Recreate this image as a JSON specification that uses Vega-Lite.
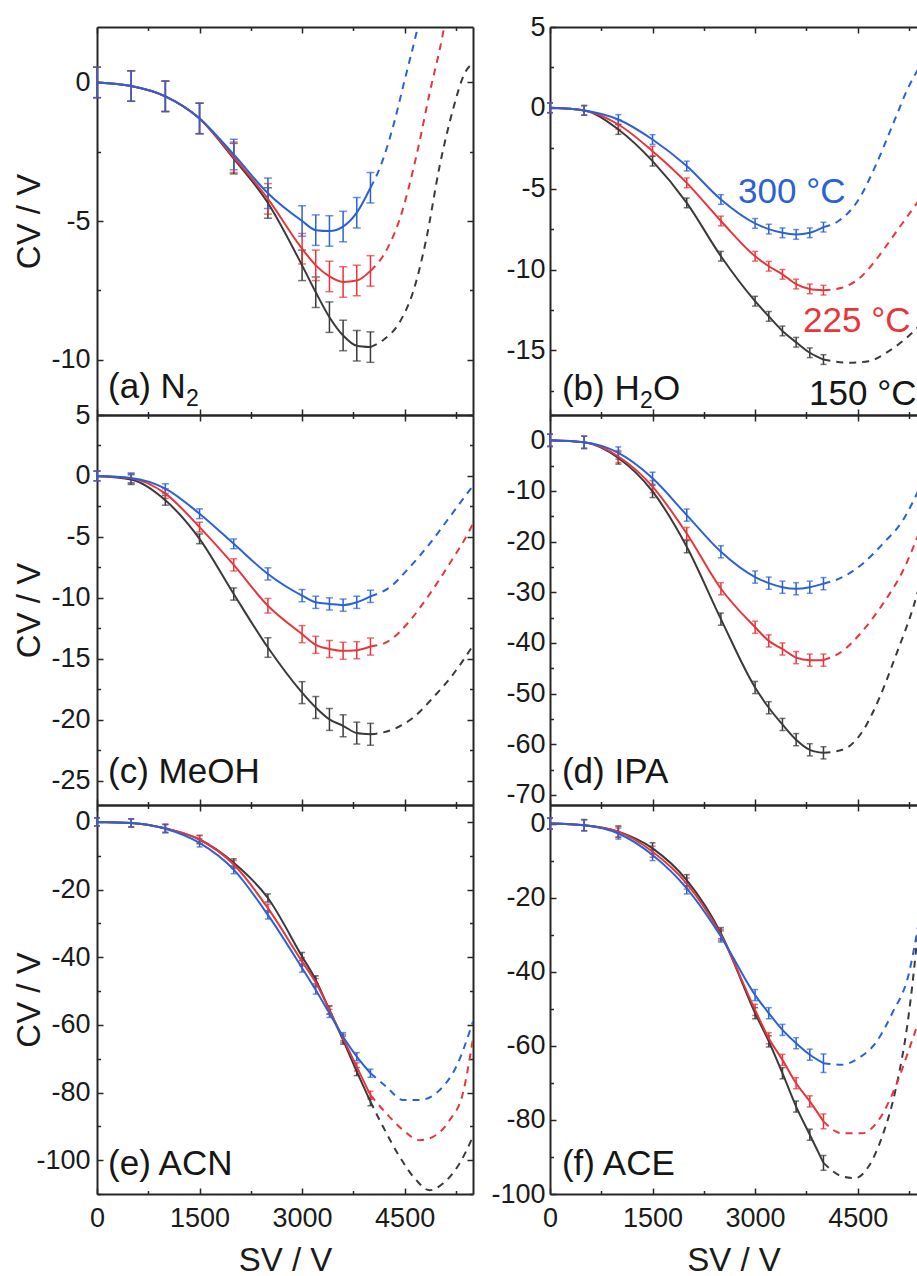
{
"$schema":"https://vega.github.io/schema/vega-lite/v6.json",
"padding":{"left":13,"top":13,"right":0,"bottom":0},
"background":"white",
"columns":2,
"spacing":{"row":0,"column":77},
"bounds":"flush",
"config":{"view":{"stroke":null},"font":"Liberation Sans",
"axis":{"grid":false,"domainColor":"#262626","domainWidth":2,"tickColor":"#262626","tickWidth":1.5,"labelFont":"Liberation Sans","labelFontSize":27,"labelColor":"#1a1a1a","labelFlush":false,"labelOverlap":false,"titleFont":"Liberation Sans","titleFontSize":33,"titleFontWeight":"normal","titleColor":"#1a1a1a"},
"text":{"font":"Liberation Sans"}},
"datasets":{
"pts":[
{"p":"a","T":"150","sv":0,"cv":0,"e":0.55},{"p":"a","T":"150","sv":500,"cv":-0.13,"e":0.55},{"p":"a","T":"150","sv":1000,"cv":-0.5,"e":0.55},{"p":"a","T":"150","sv":1500,"cv":-1.3,"e":0.55},{"p":"a","T":"150","sv":2000,"cv":-2.75,"e":0.55},{"p":"a","T":"150","sv":2500,"cv":-4.35,"e":0.55},{"p":"a","T":"150","sv":3000,"cv":-6.6,"e":0.55},{"p":"a","T":"150","sv":3200,"cv":-7.57,"e":0.55},{"p":"a","T":"150","sv":3400,"cv":-8.47,"e":0.55},{"p":"a","T":"150","sv":3600,"cv":-9.13,"e":0.55},{"p":"a","T":"150","sv":3800,"cv":-9.5,"e":0.55},{"p":"a","T":"150","sv":4000,"cv":-9.55,"e":0.55},
{"p":"a","T":"225","sv":0,"cv":0,"e":0.55},{"p":"a","T":"225","sv":500,"cv":-0.13,"e":0.55},{"p":"a","T":"225","sv":1000,"cv":-0.5,"e":0.55},{"p":"a","T":"225","sv":1500,"cv":-1.3,"e":0.55},{"p":"a","T":"225","sv":2000,"cv":-2.7,"e":0.55},{"p":"a","T":"225","sv":2500,"cv":-4.2,"e":0.55},{"p":"a","T":"225","sv":3000,"cv":-6.0,"e":0.55},{"p":"a","T":"225","sv":3200,"cv":-6.6,"e":0.55},{"p":"a","T":"225","sv":3400,"cv":-7.0,"e":0.55},{"p":"a","T":"225","sv":3600,"cv":-7.2,"e":0.55},{"p":"a","T":"225","sv":3800,"cv":-7.15,"e":0.55},{"p":"a","T":"225","sv":4000,"cv":-6.8,"e":0.55},
{"p":"a","T":"300","sv":0,"cv":0,"e":0.55},{"p":"a","T":"300","sv":500,"cv":-0.13,"e":0.55},{"p":"a","T":"300","sv":1000,"cv":-0.5,"e":0.55},{"p":"a","T":"300","sv":1500,"cv":-1.3,"e":0.55},{"p":"a","T":"300","sv":2000,"cv":-2.6,"e":0.55},{"p":"a","T":"300","sv":2500,"cv":-4.0,"e":0.55},{"p":"a","T":"300","sv":3000,"cv":-5.0,"e":0.55},{"p":"a","T":"300","sv":3200,"cv":-5.33,"e":0.55},{"p":"a","T":"300","sv":3400,"cv":-5.36,"e":0.55},{"p":"a","T":"300","sv":3600,"cv":-5.2,"e":0.55},{"p":"a","T":"300","sv":3800,"cv":-4.7,"e":0.55},{"p":"a","T":"300","sv":4000,"cv":-3.8,"e":0.55},
{"p":"b","T":"150","sv":0,"cv":0,"e":0.3},{"p":"b","T":"150","sv":500,"cv":-0.16,"e":0.3},{"p":"b","T":"150","sv":1000,"cv":-1.34,"e":0.3},{"p":"b","T":"150","sv":1500,"cv":-3.3,"e":0.3},{"p":"b","T":"150","sv":2000,"cv":-5.88,"e":0.3},{"p":"b","T":"150","sv":2500,"cv":-9.18,"e":0.3},{"p":"b","T":"150","sv":3000,"cv":-11.96,"e":0.3},{"p":"b","T":"150","sv":3200,"cv":-12.9,"e":0.3},{"p":"b","T":"150","sv":3400,"cv":-13.8,"e":0.3},{"p":"b","T":"150","sv":3600,"cv":-14.5,"e":0.3},{"p":"b","T":"150","sv":3800,"cv":-15.15,"e":0.3},{"p":"b","T":"150","sv":4000,"cv":-15.57,"e":0.3},
{"p":"b","T":"225","sv":0,"cv":0,"e":0.3},{"p":"b","T":"225","sv":500,"cv":-0.16,"e":0.3},{"p":"b","T":"225","sv":1000,"cv":-1.03,"e":0.3},{"p":"b","T":"225","sv":1500,"cv":-2.68,"e":0.3},{"p":"b","T":"225","sv":2000,"cv":-4.64,"e":0.3},{"p":"b","T":"225","sv":2500,"cv":-7.0,"e":0.3},{"p":"b","T":"225","sv":3000,"cv":-9.18,"e":0.3},{"p":"b","T":"225","sv":3200,"cv":-9.8,"e":0.3},{"p":"b","T":"225","sv":3400,"cv":-10.3,"e":0.3},{"p":"b","T":"225","sv":3600,"cv":-10.9,"e":0.3},{"p":"b","T":"225","sv":3800,"cv":-11.2,"e":0.3},{"p":"b","T":"225","sv":4000,"cv":-11.28,"e":0.3},
{"p":"b","T":"300","sv":0,"cv":0,"e":0.3},{"p":"b","T":"300","sv":500,"cv":-0.16,"e":0.3},{"p":"b","T":"300","sv":1000,"cv":-0.72,"e":0.3},{"p":"b","T":"300","sv":1500,"cv":-1.96,"e":0.3},{"p":"b","T":"300","sv":2000,"cv":-3.6,"e":0.3},{"p":"b","T":"300","sv":2500,"cv":-5.67,"e":0.3},{"p":"b","T":"300","sv":3000,"cv":-7.15,"e":0.3},{"p":"b","T":"300","sv":3200,"cv":-7.5,"e":0.3},{"p":"b","T":"300","sv":3400,"cv":-7.73,"e":0.3},{"p":"b","T":"300","sv":3600,"cv":-7.83,"e":0.3},{"p":"b","T":"300","sv":3800,"cv":-7.73,"e":0.3},{"p":"b","T":"300","sv":4000,"cv":-7.38,"e":0.3},
{"p":"c","T":"150","sv":0,"cv":0,"e":0.4},{"p":"c","T":"150","sv":500,"cv":-0.3,"e":0.4},{"p":"c","T":"150","sv":1000,"cv":-2.0,"e":0.4},{"p":"c","T":"150","sv":1500,"cv":-5.16,"e":0.4},{"p":"c","T":"150","sv":2000,"cv":-9.69,"e":0.5},{"p":"c","T":"150","sv":2500,"cv":-14.08,"e":0.8},{"p":"c","T":"150","sv":3000,"cv":-17.78,"e":0.9},{"p":"c","T":"150","sv":3200,"cv":-19.0,"e":0.9},{"p":"c","T":"150","sv":3400,"cv":-19.98,"e":0.9},{"p":"c","T":"150","sv":3600,"cv":-20.5,"e":0.9},{"p":"c","T":"150","sv":3800,"cv":-21.1,"e":0.9},{"p":"c","T":"150","sv":4000,"cv":-21.2,"e":0.9},
{"p":"c","T":"225","sv":0,"cv":0,"e":0.4},{"p":"c","T":"225","sv":500,"cv":-0.2,"e":0.4},{"p":"c","T":"225","sv":1000,"cv":-1.45,"e":0.4},{"p":"c","T":"225","sv":1500,"cv":-4.2,"e":0.4},{"p":"c","T":"225","sv":2000,"cv":-7.3,"e":0.5},{"p":"c","T":"225","sv":2500,"cv":-10.65,"e":0.6},{"p":"c","T":"225","sv":3000,"cv":-12.98,"e":0.7},{"p":"c","T":"225","sv":3200,"cv":-13.86,"e":0.7},{"p":"c","T":"225","sv":3400,"cv":-14.2,"e":0.7},{"p":"c","T":"225","sv":3600,"cv":-14.35,"e":0.7},{"p":"c","T":"225","sv":3800,"cv":-14.3,"e":0.7},{"p":"c","T":"225","sv":4000,"cv":-14.0,"e":0.7},
{"p":"c","T":"300","sv":0,"cv":0,"e":0.4},{"p":"c","T":"300","sv":500,"cv":-0.16,"e":0.4},{"p":"c","T":"300","sv":1000,"cv":-1.04,"e":0.4},{"p":"c","T":"300","sv":1500,"cv":-3.1,"e":0.4},{"p":"c","T":"300","sv":2000,"cv":-5.57,"e":0.4},{"p":"c","T":"300","sv":2500,"cv":-8.04,"e":0.5},{"p":"c","T":"300","sv":3000,"cv":-9.82,"e":0.5},{"p":"c","T":"300","sv":3200,"cv":-10.37,"e":0.5},{"p":"c","T":"300","sv":3400,"cv":-10.5,"e":0.5},{"p":"c","T":"300","sv":3600,"cv":-10.6,"e":0.5},{"p":"c","T":"300","sv":3800,"cv":-10.37,"e":0.5},{"p":"c","T":"300","sv":4000,"cv":-9.88,"e":0.5},
{"p":"d","T":"150","sv":0,"cv":0,"e":1.2},{"p":"d","T":"150","sv":500,"cv":-0.4,"e":1.2},{"p":"d","T":"150","sv":1000,"cv":-3.5,"e":1.2},{"p":"d","T":"150","sv":1500,"cv":-10.1,"e":1.2},{"p":"d","T":"150","sv":2000,"cv":-21.0,"e":1.2},{"p":"d","T":"150","sv":2500,"cv":-35.3,"e":1.2},{"p":"d","T":"150","sv":3000,"cv":-48.8,"e":1.2},{"p":"d","T":"150","sv":3200,"cv":-52.8,"e":1.2},{"p":"d","T":"150","sv":3400,"cv":-56.1,"e":1.2},{"p":"d","T":"150","sv":3600,"cv":-59.1,"e":1.2},{"p":"d","T":"150","sv":3800,"cv":-61.1,"e":1.2},{"p":"d","T":"150","sv":4000,"cv":-61.7,"e":1.2},
{"p":"d","T":"225","sv":0,"cv":0,"e":1.2},{"p":"d","T":"225","sv":500,"cv":-0.4,"e":1.2},{"p":"d","T":"225","sv":1000,"cv":-3.2,"e":1.2},{"p":"d","T":"225","sv":1500,"cv":-9.13,"e":1.2},{"p":"d","T":"225","sv":2000,"cv":-18.4,"e":1.2},{"p":"d","T":"225","sv":2500,"cv":-29.3,"e":1.2},{"p":"d","T":"225","sv":3000,"cv":-36.9,"e":1.2},{"p":"d","T":"225","sv":3200,"cv":-39.6,"e":1.2},{"p":"d","T":"225","sv":3400,"cv":-41.2,"e":1.2},{"p":"d","T":"225","sv":3600,"cv":-42.9,"e":1.2},{"p":"d","T":"225","sv":3800,"cv":-43.4,"e":1.2},{"p":"d","T":"225","sv":4000,"cv":-43.4,"e":1.2},
{"p":"d","T":"300","sv":0,"cv":0,"e":1.2},{"p":"d","T":"300","sv":500,"cv":-0.4,"e":1.2},{"p":"d","T":"300","sv":1000,"cv":-2.5,"e":1.2},{"p":"d","T":"300","sv":1500,"cv":-7.5,"e":1.2},{"p":"d","T":"300","sv":2000,"cv":-14.76,"e":1.2},{"p":"d","T":"300","sv":2500,"cv":-22.0,"e":1.2},{"p":"d","T":"300","sv":3000,"cv":-27.0,"e":1.2},{"p":"d","T":"300","sv":3200,"cv":-28.2,"e":1.2},{"p":"d","T":"300","sv":3400,"cv":-29.0,"e":1.2},{"p":"d","T":"300","sv":3600,"cv":-29.3,"e":1.2},{"p":"d","T":"300","sv":3800,"cv":-29.0,"e":1.2},{"p":"d","T":"300","sv":4000,"cv":-28.3,"e":1.2},
{"p":"e","T":"150","sv":0,"cv":0,"e":1.2},{"p":"e","T":"150","sv":500,"cv":-0.3,"e":1.2},{"p":"e","T":"150","sv":1000,"cv":-1.9,"e":1.2},{"p":"e","T":"150","sv":1500,"cv":-5.2,"e":1.2},{"p":"e","T":"150","sv":2000,"cv":-12.1,"e":1.2},{"p":"e","T":"150","sv":2500,"cv":-22.5,"e":1.2},{"p":"e","T":"150","sv":3000,"cv":-39.8,"e":1.2},{"p":"e","T":"150","sv":3200,"cv":-46.7,"e":1.2},{"p":"e","T":"150","sv":3400,"cv":-55.6,"e":1.2},{"p":"e","T":"150","sv":3600,"cv":-64.5,"e":1.2},{"p":"e","T":"150","sv":3800,"cv":-73.8,"e":1.2},{"p":"e","T":"150","sv":4000,"cv":-82.7,"e":1.2},
{"p":"e","T":"225","sv":0,"cv":0,"e":1.2},{"p":"e","T":"225","sv":500,"cv":-0.3,"e":1.2},{"p":"e","T":"225","sv":1000,"cv":-1.9,"e":1.2},{"p":"e","T":"225","sv":1500,"cv":-5.2,"e":1.2},{"p":"e","T":"225","sv":2000,"cv":-12.6,"e":1.2},{"p":"e","T":"225","sv":2500,"cv":-25.5,"e":1.2},{"p":"e","T":"225","sv":3000,"cv":-41.3,"e":1.2},{"p":"e","T":"225","sv":3200,"cv":-47.5,"e":1.2},{"p":"e","T":"225","sv":3400,"cv":-55.6,"e":1.2},{"p":"e","T":"225","sv":3600,"cv":-64.0,"e":1.2},{"p":"e","T":"225","sv":3800,"cv":-72.4,"e":1.2},{"p":"e","T":"225","sv":4000,"cv":-80.8,"e":1.2},
{"p":"e","T":"300","sv":0,"cv":0,"e":1.2},{"p":"e","T":"300","sv":500,"cv":-0.3,"e":1.2},{"p":"e","T":"300","sv":1000,"cv":-2.0,"e":1.2},{"p":"e","T":"300","sv":1500,"cv":-6.2,"e":1.2},{"p":"e","T":"300","sv":2000,"cv":-14.1,"e":1.2},{"p":"e","T":"300","sv":2500,"cv":-27.5,"e":1.2},{"p":"e","T":"300","sv":3000,"cv":-43.2,"e":1.2},{"p":"e","T":"300","sv":3200,"cv":-49.7,"e":1.2},{"p":"e","T":"300","sv":3400,"cv":-56.6,"e":1.2},{"p":"e","T":"300","sv":3600,"cv":-63.5,"e":1.2},{"p":"e","T":"300","sv":3800,"cv":-69.4,"e":1.2},{"p":"e","T":"300","sv":4000,"cv":-74.3,"e":1.2},
{"p":"f","T":"150","sv":0,"cv":0,"e":1.5},{"p":"f","T":"150","sv":500,"cv":-0.45,"e":1.5},{"p":"f","T":"150","sv":1000,"cv":-2.2,"e":1.5},{"p":"f","T":"150","sv":1500,"cv":-6.7,"e":1.5},{"p":"f","T":"150","sv":2000,"cv":-15.3,"e":1.5},{"p":"f","T":"150","sv":2500,"cv":-29.6,"e":1.5},{"p":"f","T":"150","sv":3000,"cv":-51.2,"e":1.5},{"p":"f","T":"150","sv":3200,"cv":-58.8,"e":1.5},{"p":"f","T":"150","sv":3400,"cv":-67.4,"e":1.5},{"p":"f","T":"150","sv":3600,"cv":-76.4,"e":1.5},{"p":"f","T":"150","sv":3800,"cv":-84.0,"e":1.5},{"p":"f","T":"150","sv":4000,"cv":-91.6,"e":2.0},
{"p":"f","T":"225","sv":0,"cv":0,"e":1.5},{"p":"f","T":"225","sv":500,"cv":-0.45,"e":1.5},{"p":"f","T":"225","sv":1000,"cv":-2.2,"e":1.5},{"p":"f","T":"225","sv":1500,"cv":-7.6,"e":1.5},{"p":"f","T":"225","sv":2000,"cv":-16.2,"e":1.5},{"p":"f","T":"225","sv":2500,"cv":-30.1,"e":1.5},{"p":"f","T":"225","sv":3000,"cv":-50.3,"e":1.5},{"p":"f","T":"225","sv":3200,"cv":-57.95,"e":1.5},{"p":"f","T":"225","sv":3400,"cv":-63.8,"e":1.5},{"p":"f","T":"225","sv":3600,"cv":-70.1,"e":1.5},{"p":"f","T":"225","sv":3800,"cv":-75.0,"e":1.5},{"p":"f","T":"225","sv":4000,"cv":-80.4,"e":2.0},
{"p":"f","T":"300","sv":0,"cv":0,"e":1.5},{"p":"f","T":"300","sv":500,"cv":-0.45,"e":1.5},{"p":"f","T":"300","sv":1000,"cv":-2.7,"e":1.5},{"p":"f","T":"300","sv":1500,"cv":-8.5,"e":1.5},{"p":"f","T":"300","sv":2000,"cv":-17.5,"e":1.5},{"p":"f","T":"300","sv":2500,"cv":-30.5,"e":1.5},{"p":"f","T":"300","sv":3000,"cv":-46.3,"e":1.5},{"p":"f","T":"300","sv":3200,"cv":-51.2,"e":1.5},{"p":"f","T":"300","sv":3400,"cv":-55.7,"e":1.5},{"p":"f","T":"300","sv":3600,"cv":-59.3,"e":1.5},{"p":"f","T":"300","sv":3800,"cv":-62.4,"e":1.5},{"p":"f","T":"300","sv":4000,"cv":-64.7,"e":2.5}
],
"dash":[
{"p":"a","T":"150","sv":4000,"cv":-9.55},{"p":"a","T":"150","sv":4184,"cv":-9.3},{"p":"a","T":"150","sv":4427,"cv":-8.65},{"p":"a","T":"150","sv":4622,"cv":-7.57},{"p":"a","T":"150","sv":4816,"cv":-5.66},{"p":"a","T":"150","sv":5011,"cv":-3.03},{"p":"a","T":"150","sv":5205,"cv":-1.0},{"p":"a","T":"150","sv":5376,"cv":0.32},{"p":"a","T":"150","sv":5500,"cv":0.7},
{"p":"a","T":"225","sv":4000,"cv":-6.8},{"p":"a","T":"225","sv":4184,"cv":-6.26},{"p":"a","T":"225","sv":4427,"cv":-4.94},{"p":"a","T":"225","sv":4670,"cv":-2.67},{"p":"a","T":"225","sv":4865,"cv":-0.39},{"p":"a","T":"225","sv":5060,"cv":1.76},{"p":"a","T":"225","sv":5100,"cv":2.3},
{"p":"a","T":"300","sv":4000,"cv":-3.8},{"p":"a","T":"300","sv":4135,"cv":-3.1},{"p":"a","T":"300","sv":4330,"cv":-1.6},{"p":"a","T":"300","sv":4500,"cv":0.08},{"p":"a","T":"300","sv":4670,"cv":1.76},{"p":"a","T":"300","sv":4720,"cv":2.3},
{"p":"b","T":"150","sv":4000,"cv":-15.57},{"p":"b","T":"150","sv":4367,"cv":-15.77},{"p":"b","T":"150","sv":4662,"cv":-15.67},{"p":"b","T":"150","sv":4956,"cv":-15.05},{"p":"b","T":"150","sv":5250,"cv":-14.1},{"p":"b","T":"150","sv":5400,"cv":-13.5},
{"p":"b","T":"225","sv":4000,"cv":-11.28},{"p":"b","T":"225","sv":4269,"cv":-11.13},{"p":"b","T":"225","sv":4564,"cv":-10.4},{"p":"b","T":"225","sv":4808,"cv":-9.18},{"p":"b","T":"225","sv":5054,"cv":-7.73},{"p":"b","T":"225","sv":5300,"cv":-6.29},{"p":"b","T":"225","sv":5450,"cv":-5.4},
{"p":"b","T":"300","sv":4000,"cv":-7.38},{"p":"b","T":"300","sv":4220,"cv":-7.0},{"p":"b","T":"300","sv":4514,"cv":-5.67},{"p":"b","T":"300","sv":4760,"cv":-3.6},{"p":"b","T":"300","sv":5005,"cv":-1.13},{"p":"b","T":"300","sv":5250,"cv":1.34},{"p":"b","T":"300","sv":5400,"cv":2.5},
{"p":"c","T":"150","sv":4000,"cv":-21.2},{"p":"c","T":"150","sv":4330,"cv":-20.8},{"p":"c","T":"150","sv":4622,"cv":-19.84},{"p":"c","T":"150","sv":4914,"cv":-18.2},{"p":"c","T":"150","sv":5206,"cv":-16.3},{"p":"c","T":"150","sv":5449,"cv":-14.35},{"p":"c","T":"150","sv":5500,"cv":-13.9},
{"p":"c","T":"225","sv":4000,"cv":-14.0},{"p":"c","T":"225","sv":4281,"cv":-13.5},{"p":"c","T":"225","sv":4573,"cv":-11.9},{"p":"c","T":"225","sv":4865,"cv":-9.7},{"p":"c","T":"225","sv":5157,"cv":-7.2},{"p":"c","T":"225","sv":5449,"cv":-4.47},{"p":"c","T":"225","sv":5500,"cv":-3.9},
{"p":"c","T":"300","sv":4000,"cv":-9.88},{"p":"c","T":"300","sv":4281,"cv":-9.14},{"p":"c","T":"300","sv":4573,"cv":-7.49},{"p":"c","T":"300","sv":4865,"cv":-5.57},{"p":"c","T":"300","sv":5157,"cv":-3.38},{"p":"c","T":"300","sv":5449,"cv":-1.18},{"p":"c","T":"300","sv":5500,"cv":-0.8},
{"p":"d","T":"150","sv":4000,"cv":-61.7},{"p":"d","T":"150","sv":4279,"cv":-61.1},{"p":"d","T":"150","sv":4574,"cv":-57.4},{"p":"d","T":"150","sv":4820,"cv":-50.8},{"p":"d","T":"150","sv":5066,"cv":-42.2},{"p":"d","T":"150","sv":5312,"cv":-33.0},{"p":"d","T":"150","sv":5420,"cv":-28.0},
{"p":"d","T":"225","sv":4000,"cv":-43.4},{"p":"d","T":"225","sv":4279,"cv":-41.6},{"p":"d","T":"225","sv":4574,"cv":-37.6},{"p":"d","T":"225","sv":4869,"cv":-32.3},{"p":"d","T":"225","sv":5164,"cv":-25.7},{"p":"d","T":"225","sv":5415,"cv":-17.7},
{"p":"d","T":"300","sv":4000,"cv":-28.3},{"p":"d","T":"300","sv":4279,"cv":-27.0},{"p":"d","T":"300","sv":4574,"cv":-24.35},{"p":"d","T":"300","sv":4869,"cv":-20.4},{"p":"d","T":"300","sv":5164,"cv":-15.75},{"p":"d","T":"300","sv":5415,"cv":-9.13},
{"p":"e","T":"150","sv":4000,"cv":-82.7},{"p":"e","T":"150","sv":4184,"cv":-90.1},{"p":"e","T":"150","sv":4427,"cv":-99.0},{"p":"e","T":"150","sv":4670,"cv":-105.9},{"p":"e","T":"150","sv":4865,"cv":-108.9},{"p":"e","T":"150","sv":5060,"cv":-106.9},{"p":"e","T":"150","sv":5303,"cv":-101.0},{"p":"e","T":"150","sv":5500,"cv":-93.0},
{"p":"e","T":"225","sv":4000,"cv":-80.8},{"p":"e","T":"225","sv":4233,"cv":-86.2},{"p":"e","T":"225","sv":4476,"cv":-91.1},{"p":"e","T":"225","sv":4719,"cv":-94.1},{"p":"e","T":"225","sv":4914,"cv":-93.1},{"p":"e","T":"225","sv":5157,"cv":-88.2},{"p":"e","T":"225","sv":5351,"cv":-80.3},{"p":"e","T":"225","sv":5500,"cv":-64.0},
{"p":"e","T":"300","sv":4000,"cv":-74.3},{"p":"e","T":"300","sv":4233,"cv":-78.3},{"p":"e","T":"300","sv":4476,"cv":-82.2},{"p":"e","T":"300","sv":4719,"cv":-82.2},{"p":"e","T":"300","sv":5011,"cv":-79.3},{"p":"e","T":"300","sv":5254,"cv":-72.4},{"p":"e","T":"300","sv":5500,"cv":-59.0},
{"p":"f","T":"150","sv":4000,"cv":-91.6},{"p":"f","T":"150","sv":4269,"cv":-95.2},{"p":"f","T":"150","sv":4465,"cv":-95.7},{"p":"f","T":"150","sv":4662,"cv":-92.5},{"p":"f","T":"150","sv":4858,"cv":-84.5},{"p":"f","T":"150","sv":5054,"cv":-71.9},{"p":"f","T":"150","sv":5250,"cv":-51.2},{"p":"f","T":"150","sv":5349,"cv":-35.0},{"p":"f","T":"150","sv":5400,"cv":-25.0},
{"p":"f","T":"225","sv":4000,"cv":-80.4},{"p":"f","T":"225","sv":4269,"cv":-83.6},{"p":"f","T":"225","sv":4563,"cv":-83.6},{"p":"f","T":"225","sv":4809,"cv":-80.0},{"p":"f","T":"225","sv":5054,"cv":-71.0},{"p":"f","T":"225","sv":5299,"cv":-58.4},{"p":"f","T":"225","sv":5400,"cv":-53.0},
{"p":"f","T":"300","sv":4000,"cv":-64.7},{"p":"f","T":"300","sv":4269,"cv":-65.1},{"p":"f","T":"300","sv":4514,"cv":-63.3},{"p":"f","T":"300","sv":4760,"cv":-59.3},{"p":"f","T":"300","sv":5005,"cv":-51.2},{"p":"f","T":"300","sv":5250,"cv":-40.4},{"p":"f","T":"300","sv":5400,"cv":-26.0}
],
"lab":[
{"p":"a","T":"k","sv":161,"cv":-11.39,"t":"(a) N","s":"2","o":""},
{"p":"b","T":"k","sv":175,"cv":-18.07,"t":"(b) H","s":"2","o":"O"},
{"p":"b","T":"300","sv":2750,"cv":-5.88,"t":"300 °C","s":"","o":""},
{"p":"b","T":"225","sv":3701,"cv":-13.86,"t":"225 °C","s":"","o":""},
{"p":"b","T":"k","sv":3789,"cv":-18.38,"t":"150 °C","s":"","o":""},
{"p":"c","T":"k","sv":161,"cv":-25.19,"t":"(c) MeOH","s":"","o":""},
{"p":"d","T":"k","sv":175,"cv":-67.66,"t":"(d) IPA","s":"","o":""},
{"p":"e","T":"k","sv":161,"cv":-104.4,"t":"(e) ACN","s":"","o":""},
{"p":"f","T":"k","sv":175,"cv":-94.87,"t":"(f) ACE","s":"","o":""}
]
},
"concat":[
{"width":376,"height":388,"layer":[
{"data":{"name":"pts"},"transform":[{"filter":"datum.p==='a'"}],"mark":{"type":"errorbar","ticks":{"size":8},"thickness":1.5},
"encoding":{"x":{"field":"sv","type":"quantitative","scale":{"domain":[0,5500],"nice":false},"axis":{"orient":"bottom","values":[0,750,1500,2250,3000,3750,4500,5250],"labels":false,"title":null,"tickSize":{"condition":{"test":"datum.value % 1500 === 0","value":-6},"value":-3.5}}},
"y":{"field":"cv","type":"quantitative","scale":{"domain":[-12,2],"nice":false},"axis":{"orient":"left","values":[-10,-7.5,-5,-2.5,0],"labelExpr":"datum.value % 5 === 0 ? '' + datum.value : ''","labelPadding":13,"title":"CV / V","titleX":-68,"titleBaseline":"middle","tickSize":{"condition":{"test":"datum.value % 5 === 0","value":-6},"value":-3.5}}},
"yError":{"field":"e"},
"color":{"field":"T","type":"nominal","scale":{"domain":["150","225","300","k"],"range":["#3a3a3a","#e8353b","#2a62d6","#161616"]},"legend":null}}},
{"data":{"name":"pts"},"transform":[{"filter":"datum.p==='a'"}],"mark":{"type":"line","interpolate":"monotone","strokeWidth":2,"clip":true},
"encoding":{"x":{"field":"sv","type":"quantitative","axis":null},"y":{"field":"cv","type":"quantitative","axis":null},"color":{"field":"T","type":"nominal","legend":null}}},
{"data":{"name":"dash"},"transform":[{"filter":"datum.p==='a'"}],"mark":{"type":"line","interpolate":"monotone","strokeWidth":2,"strokeDash":[7,6],"clip":true},
"encoding":{"x":{"field":"sv","type":"quantitative","axis":{"orient":"top","values":[0,750,1500,2250,3000,3750,4500,5250],"labels":false,"title":null,"tickSize":{"condition":{"test":"datum.value % 1500 === 0","value":-6},"value":-3.5}}},
"y":{"field":"cv","type":"quantitative","axis":{"orient":"right","values":[-10,-7.5,-5,-2.5,0],"labels":false,"title":null,"tickSize":{"condition":{"test":"datum.value % 5 === 0","value":-6},"value":-3.5}}},"color":{"field":"T","type":"nominal","legend":null}}},
{"data":{"name":"lab"},"transform":[{"filter":"datum.p==='a'"}],"mark":{"type":"text","align":"left","baseline":"alphabetic","fontSize":35},
"encoding":{"x":{"field":"sv","type":"quantitative","axis":null},"y":{"field":"cv","type":"quantitative","axis":null},"text":{"field":"t"},"color":{"field":"T","type":"nominal","legend":null}}},
{"data":{"name":"lab"},"transform":[{"filter":"datum.p==='a'"}],"mark":{"type":"text","align":"left","baseline":"alphabetic","fontSize":23,"dx":78,"dy":8},
"encoding":{"x":{"field":"sv","type":"quantitative","axis":null},"y":{"field":"cv","type":"quantitative","axis":null},"text":{"field":"s"},"color":{"field":"T","type":"nominal","legend":null}}}
],"resolve":{"axis":{"x":"independent","y":"independent"}}},

{"width":367,"height":388,"layer":[
{"data":{"name":"pts"},"transform":[{"filter":"datum.p==='b'"}],"mark":{"type":"errorbar","ticks":{"size":6},"thickness":1.5},
"encoding":{"x":{"field":"sv","type":"quantitative","scale":{"domain":[0,5368],"nice":false},"axis":{"orient":"bottom","values":[0,750,1500,2250,3000,3750,4500,5250],"labels":false,"title":null,"tickSize":{"condition":{"test":"datum.value % 1500 === 0","value":-6},"value":-3.5}}},
"y":{"field":"cv","type":"quantitative","scale":{"domain":[-19,5],"nice":false},"axis":{"orient":"left","values":[-17.5,-15,-12.5,-10,-7.5,-5,-2.5,0,2.5,5],"labelExpr":"datum.value % 5 === 0 ? '' + datum.value : ''","labelPadding":11,"title":null,"tickSize":{"condition":{"test":"datum.value % 5 === 0","value":-6},"value":-3.5}}},
"yError":{"field":"e"},
"color":{"field":"T","type":"nominal","legend":null}}},
{"data":{"name":"pts"},"transform":[{"filter":"datum.p==='b'"}],"mark":{"type":"line","interpolate":"monotone","strokeWidth":2,"clip":true},
"encoding":{"x":{"field":"sv","type":"quantitative","axis":null},"y":{"field":"cv","type":"quantitative","axis":null},"color":{"field":"T","type":"nominal","legend":null}}},
{"data":{"name":"dash"},"transform":[{"filter":"datum.p==='b'"}],"mark":{"type":"line","interpolate":"monotone","strokeWidth":2,"strokeDash":[7,6],"clip":true},
"encoding":{"x":{"field":"sv","type":"quantitative","axis":{"orient":"top","values":[0,750,1500,2250,3000,3750,4500,5250],"labels":false,"title":null,"tickSize":{"condition":{"test":"datum.value % 1500 === 0","value":-6},"value":-3.5}}},
"y":{"field":"cv","type":"quantitative","axis":null},"color":{"field":"T","type":"nominal","legend":null}}},
{"data":{"name":"lab"},"transform":[{"filter":"datum.p==='b'"}],"mark":{"type":"text","align":"left","baseline":"alphabetic","fontSize":35},
"encoding":{"x":{"field":"sv","type":"quantitative","axis":null},"y":{"field":"cv","type":"quantitative","axis":null},"text":{"field":"t"},"color":{"field":"T","type":"nominal","legend":null}}},
{"data":{"name":"lab"},"transform":[{"filter":"datum.p==='b'"}],"mark":{"type":"text","align":"left","baseline":"alphabetic","fontSize":23,"dx":78,"dy":8},
"encoding":{"x":{"field":"sv","type":"quantitative","axis":null},"y":{"field":"cv","type":"quantitative","axis":null},"text":{"field":"s"},"color":{"field":"T","type":"nominal","legend":null}}},
{"data":{"name":"lab"},"transform":[{"filter":"datum.p==='b'"}],"mark":{"type":"text","align":"left","baseline":"alphabetic","fontSize":35,"dx":91},
"encoding":{"x":{"field":"sv","type":"quantitative","axis":null},"y":{"field":"cv","type":"quantitative","axis":null},"text":{"field":"o"},"color":{"field":"T","type":"nominal","legend":null}}}
],"resolve":{"axis":{"x":"independent","y":"independent"}}},

{"width":376,"height":390,"layer":[
{"data":{"name":"pts"},"transform":[{"filter":"datum.p==='c'"}],"mark":{"type":"errorbar","ticks":{"size":7},"thickness":1.5},
"encoding":{"x":{"field":"sv","type":"quantitative","scale":{"domain":[0,5500],"nice":false},"axis":{"orient":"bottom","values":[0,750,1500,2250,3000,3750,4500,5250],"labels":false,"title":null,"tickSize":{"condition":{"test":"datum.value % 1500 === 0","value":-6},"value":-3.5}}},
"y":{"field":"cv","type":"quantitative","scale":{"domain":[-27,5],"nice":false},"axis":{"orient":"left","values":[-25,-22.5,-20,-17.5,-15,-12.5,-10,-7.5,-5,-2.5,0,2.5,5],"labelExpr":"datum.value % 5 === 0 ? '' + datum.value : ''","labelPadding":13,"title":"CV / V","titleX":-68,"titleBaseline":"middle","tickSize":{"condition":{"test":"datum.value % 5 === 0","value":-6},"value":-3.5}}},
"yError":{"field":"e"},
"color":{"field":"T","type":"nominal","legend":null}}},
{"data":{"name":"pts"},"transform":[{"filter":"datum.p==='c'"}],"mark":{"type":"line","interpolate":"monotone","strokeWidth":2,"clip":true},
"encoding":{"x":{"field":"sv","type":"quantitative","axis":null},"y":{"field":"cv","type":"quantitative","axis":null},"color":{"field":"T","type":"nominal","legend":null}}},
{"data":{"name":"dash"},"transform":[{"filter":"datum.p==='c'"}],"mark":{"type":"line","interpolate":"monotone","strokeWidth":2,"strokeDash":[7,6],"clip":true},
"encoding":{"x":{"field":"sv","type":"quantitative","axis":{"orient":"top","values":[0,750,1500,2250,3000,3750,4500,5250],"labels":false,"title":null,"tickSize":{"condition":{"test":"datum.value % 1500 === 0","value":-6},"value":-3.5}}},
"y":{"field":"cv","type":"quantitative","axis":{"orient":"right","values":[-25,-22.5,-20,-17.5,-15,-12.5,-10,-7.5,-5,-2.5,0,2.5,5],"labels":false,"title":null,"tickSize":{"condition":{"test":"datum.value % 5 === 0","value":-6},"value":-3.5}}},"color":{"field":"T","type":"nominal","legend":null}}},
{"data":{"name":"lab"},"transform":[{"filter":"datum.p==='c'"}],"mark":{"type":"text","align":"left","baseline":"alphabetic","fontSize":35},
"encoding":{"x":{"field":"sv","type":"quantitative","axis":null},"y":{"field":"cv","type":"quantitative","axis":null},"text":{"field":"t"},"color":{"field":"T","type":"nominal","legend":null}}}
],"resolve":{"axis":{"x":"independent","y":"independent"}}},

{"width":367,"height":390,"layer":[
{"data":{"name":"pts"},"transform":[{"filter":"datum.p==='d'"}],"mark":{"type":"errorbar","ticks":{"size":6},"thickness":1.5},
"encoding":{"x":{"field":"sv","type":"quantitative","scale":{"domain":[0,5368],"nice":false},"axis":{"orient":"bottom","values":[0,750,1500,2250,3000,3750,4500,5250],"labels":false,"title":null,"tickSize":{"condition":{"test":"datum.value % 1500 === 0","value":-6},"value":-3.5}}},
"y":{"field":"cv","type":"quantitative","scale":{"domain":[-72,5],"nice":false},"axis":{"orient":"left","values":[-70,-65,-60,-55,-50,-45,-40,-35,-30,-25,-20,-15,-10,-5,0,5],"labelExpr":"datum.value % 10 === 0 ? '' + datum.value : ''","labelPadding":11,"title":null,"tickSize":{"condition":{"test":"datum.value % 10 === 0","value":-6},"value":-3.5}}},
"yError":{"field":"e"},
"color":{"field":"T","type":"nominal","legend":null}}},
{"data":{"name":"pts"},"transform":[{"filter":"datum.p==='d'"}],"mark":{"type":"line","interpolate":"monotone","strokeWidth":2,"clip":true},
"encoding":{"x":{"field":"sv","type":"quantitative","axis":null},"y":{"field":"cv","type":"quantitative","axis":null},"color":{"field":"T","type":"nominal","legend":null}}},
{"data":{"name":"dash"},"transform":[{"filter":"datum.p==='d'"}],"mark":{"type":"line","interpolate":"monotone","strokeWidth":2,"strokeDash":[7,6],"clip":true},
"encoding":{"x":{"field":"sv","type":"quantitative","axis":{"orient":"top","values":[0,750,1500,2250,3000,3750,4500,5250],"labels":false,"title":null,"tickSize":{"condition":{"test":"datum.value % 1500 === 0","value":-6},"value":-3.5}}},
"y":{"field":"cv","type":"quantitative","axis":null},"color":{"field":"T","type":"nominal","legend":null}}},
{"data":{"name":"lab"},"transform":[{"filter":"datum.p==='d'"}],"mark":{"type":"text","align":"left","baseline":"alphabetic","fontSize":35},
"encoding":{"x":{"field":"sv","type":"quantitative","axis":null},"y":{"field":"cv","type":"quantitative","axis":null},"text":{"field":"t"},"color":{"field":"T","type":"nominal","legend":null}}}
],"resolve":{"axis":{"x":"independent","y":"independent"}}},

{"width":376,"height":389,"layer":[
{"data":{"name":"pts"},"transform":[{"filter":"datum.p==='e'"}],"mark":{"type":"errorbar","ticks":{"size":6},"thickness":1.5},
"encoding":{"x":{"field":"sv","type":"quantitative","scale":{"domain":[0,5500],"nice":false},"axis":{"orient":"bottom","values":[0,750,1500,2250,3000,3750,4500,5250],"labelExpr":"datum.value % 1500 === 0 ? '' + datum.value : ''","labelPadding":17,"title":"SV / V","titleY":66,"titleBaseline":"middle","tickSize":{"condition":{"test":"datum.value % 1500 === 0","value":-6},"value":-3.5}}},
"y":{"field":"cv","type":"quantitative","scale":{"domain":[-110,5],"nice":false},"axis":{"orient":"left","values":[-110,-100,-90,-80,-70,-60,-50,-40,-30,-20,-10,0],"labelExpr":"datum.value % 20 === 0 ? '' + datum.value : ''","labelPadding":13,"title":"CV / V","titleX":-68,"titleBaseline":"middle","tickSize":{"condition":{"test":"datum.value % 20 === 0","value":-6},"value":-3.5}}},
"yError":{"field":"e"},
"color":{"field":"T","type":"nominal","legend":null}}},
{"data":{"name":"pts"},"transform":[{"filter":"datum.p==='e'"}],"mark":{"type":"line","interpolate":"monotone","strokeWidth":2,"clip":true},
"encoding":{"x":{"field":"sv","type":"quantitative","axis":null},"y":{"field":"cv","type":"quantitative","axis":null},"color":{"field":"T","type":"nominal","legend":null}}},
{"data":{"name":"dash"},"transform":[{"filter":"datum.p==='e'"}],"mark":{"type":"line","interpolate":"monotone","strokeWidth":2,"strokeDash":[7,6],"clip":true},
"encoding":{"x":{"field":"sv","type":"quantitative","axis":{"orient":"top","values":[0,750,1500,2250,3000,3750,4500,5250],"labels":false,"title":null,"tickSize":{"condition":{"test":"datum.value % 1500 === 0","value":-6},"value":-3.5}}},
"y":{"field":"cv","type":"quantitative","axis":{"orient":"right","values":[-110,-100,-90,-80,-70,-60,-50,-40,-30,-20,-10,0],"labels":false,"title":null,"tickSize":{"condition":{"test":"datum.value % 20 === 0","value":-6},"value":-3.5}}},"color":{"field":"T","type":"nominal","legend":null}}},
{"data":{"name":"lab"},"transform":[{"filter":"datum.p==='e'"}],"mark":{"type":"text","align":"left","baseline":"alphabetic","fontSize":35},
"encoding":{"x":{"field":"sv","type":"quantitative","axis":null},"y":{"field":"cv","type":"quantitative","axis":null},"text":{"field":"t"},"color":{"field":"T","type":"nominal","legend":null}}}
],"resolve":{"axis":{"x":"independent","y":"independent"}}},

{"width":367,"height":389,"layer":[
{"data":{"name":"pts"},"transform":[{"filter":"datum.p==='f'"}],"mark":{"type":"errorbar","ticks":{"size":6},"thickness":1.5},
"encoding":{"x":{"field":"sv","type":"quantitative","scale":{"domain":[0,5368],"nice":false},"axis":{"orient":"bottom","values":[0,750,1500,2250,3000,3750,4500,5250],"labelExpr":"datum.value % 1500 === 0 ? '' + datum.value : ''","labelPadding":17,"title":"SV / V","titleY":66,"titleBaseline":"middle","tickSize":{"condition":{"test":"datum.value % 1500 === 0","value":-6},"value":-3.5}}},
"y":{"field":"cv","type":"quantitative","scale":{"domain":[-100,5],"nice":false},"axis":{"orient":"left","values":[-100,-90,-80,-70,-60,-50,-40,-30,-20,-10,0],"labelExpr":"datum.value % 20 === 0 ? '' + datum.value : ''","labelPadding":11,"title":null,"tickSize":{"condition":{"test":"datum.value % 20 === 0","value":-6},"value":-3.5}}},
"yError":{"field":"e"},
"color":{"field":"T","type":"nominal","legend":null}}},
{"data":{"name":"pts"},"transform":[{"filter":"datum.p==='f'"}],"mark":{"type":"line","interpolate":"monotone","strokeWidth":2,"clip":true},
"encoding":{"x":{"field":"sv","type":"quantitative","axis":null},"y":{"field":"cv","type":"quantitative","axis":null},"color":{"field":"T","type":"nominal","legend":null}}},
{"data":{"name":"dash"},"transform":[{"filter":"datum.p==='f'"}],"mark":{"type":"line","interpolate":"monotone","strokeWidth":2,"strokeDash":[7,6],"clip":true},
"encoding":{"x":{"field":"sv","type":"quantitative","axis":{"orient":"top","values":[0,750,1500,2250,3000,3750,4500,5250],"labels":false,"title":null,"tickSize":{"condition":{"test":"datum.value % 1500 === 0","value":-6},"value":-3.5}}},
"y":{"field":"cv","type":"quantitative","axis":null},"color":{"field":"T","type":"nominal","legend":null}}},
{"data":{"name":"lab"},"transform":[{"filter":"datum.p==='f'"}],"mark":{"type":"text","align":"left","baseline":"alphabetic","fontSize":35},
"encoding":{"x":{"field":"sv","type":"quantitative","axis":null},"y":{"field":"cv","type":"quantitative","axis":null},"text":{"field":"t"},"color":{"field":"T","type":"nominal","legend":null}}}
],"resolve":{"axis":{"x":"independent","y":"independent"}}}
]
}
